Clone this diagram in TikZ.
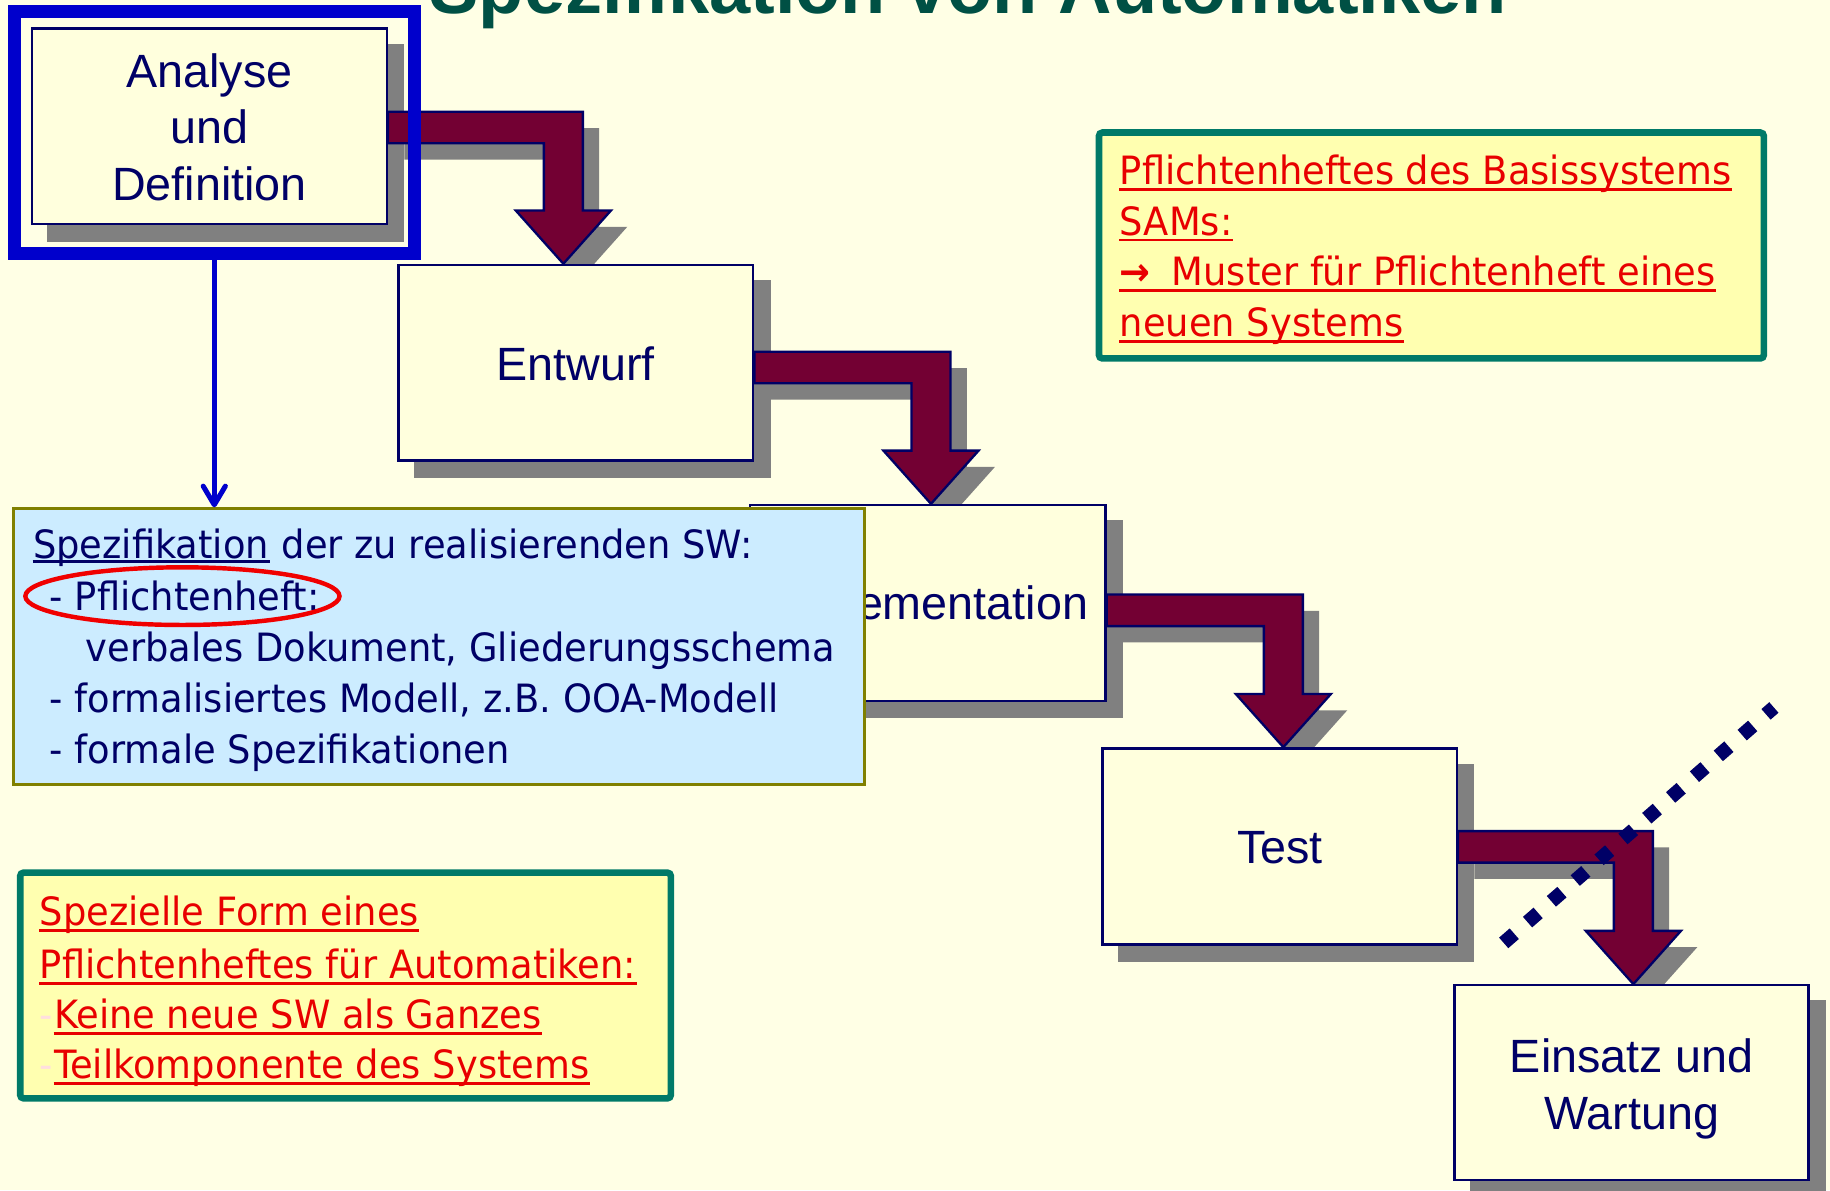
\documentclass[tikz,border=0pt]{standalone}
\usepackage{fontspec}
\usetikzlibrary{calc,fit,arrows.meta}

\newfontfamily\arialf{Liberation Sans}
\newfontfamily\tahf[FakeStretch=0.945]{DejaVu Sans}

\definecolor{bgc}{RGB}{255,255,229}
\definecolor{boxfill}{RGB}{255,255,221}
\definecolor{navyc}{RGB}{0,0,102}
\definecolor{shadowc}{RGB}{128,128,128}
\definecolor{arrowc}{RGB}{115,0,51}
\definecolor{framec}{RGB}{0,0,204}
\definecolor{specfill}{RGB}{204,236,255}
\definecolor{specborder}{RGB}{128,128,0}
\definecolor{notegreen}{RGB}{0,122,104}
\definecolor{notefill}{RGB}{255,255,176}
\definecolor{notered}{RGB}{232,0,0}
\definecolor{palered}{RGB}{255,222,222}
\definecolor{markred}{RGB}{240,0,0}
\definecolor{titlec}{RGB}{0,80,68}

\pgfdeclarelayer{backdrop}
\pgfdeclarelayer{shadows}
\pgfsetlayers{backdrop,shadows,main}

% bent block arrow: #1 = start of the bar (centre), #2 = tip
\newcommand{\bentpath}[2]{([yshift=6.75pt]#1) -| ($(#2)+(16.7,-45.6)$)
  -- ++(24.05,0) -- (#2) -- ++(-40.75,-45.6) -- ++(24.05,0)
  |- ($(#1)+(0,13.5)$) -- cycle}
\newcommand{\ulnote}[1]{\draw[noteul] ([yshift=-2.1pt]#1.base west) -- ([yshift=-2.1pt]#1.base east);}

\begin{document}
\begin{tikzpicture}[x=0.5pt,y=-0.5pt,
  stagebox/.style={draw=navyc, line width=1pt, fill=boxfill, inner sep=0pt},
  stagelabel/.style={font={\arialf\fontsize{20}{24}\selectfont}, text=navyc, anchor=base, inner sep=0pt},
  titletext/.style={font={\arialf\bfseries\fontsize{31.7}{36}\selectfont}, text=titlec, anchor=base west, inner sep=0pt},
  blockarrow/.style={fill=arrowc, draw=navyc, line width=1pt, line join=miter},
  dropshadow/.style={fill=shadowc, transform canvas={shift={(7pt,-7pt)}}},
  spectext/.style={font={\tahf\fontsize{16.7}{20}\selectfont}, text=navyc, anchor=base west, inner sep=0pt},
  notetext/.style={font={\tahf\fontsize{16.7}{20}\selectfont}, text=notered, anchor=base west, inner sep=0pt},
  noteul/.style={draw=notered, line width=1.2pt},
  notebox/.style={draw=notegreen, line width=2.85pt, fill=notefill, rounded corners=1.5pt, inner sep=0pt},
  bluearrow/.style={draw=framec, line width=2.15pt, line cap=round,
    -{Straight Barb[length=8pt, width=9.5pt, line cap=round, line join=round]}},
  cutline/.style={draw=navyc, line width=6pt, dash pattern=on 6pt off 7.55pt}
]
\useasboundingbox (0,0) rectangle (1568,1020);
\begin{pgfonlayer}{backdrop}
  \fill[bgc] (0,0) rectangle (1568,1020);
\end{pgfonlayer}

% heading
\node[titletext] (title) at (367.7,12) {Spezifikation von Automatiken};

% phases of the waterfall
\node[stagebox, fit={(27.5,24.3) (331.4,192)}] (ana) {};
\node[stagebox, fit={(341.4,227) (645.4,394.7)}] (ent) {};
\node[stagebox, fit={(642.5,432.7) (947.3,600.4)}] (imp) {};
\node[stagebox, fit={(944.7,641.2) (1248.3,809.2)}] (tst) {};
\node[stagebox, fit={(1246.2,844.2) (1549.6,1011.1)}] (ein) {};

\node[stagelabel] (ana-l1) at (179.5,74.8) {Analyse};
\node[stagelabel] (ana-l2) at (179.5,122.8) {und};
\node[stagelabel] (ana-l3) at (179.5,172.2) {Definition};
\node[stagelabel] (ent-l) at (493.4,326.4) {Entwurf};
\node[stagelabel] (imp-l) at (795.5,531.2) {Implementation};
\node[stagelabel] (tst-l) at (1096.7,739.7) {Test};
\node[stagelabel] (ein-l1) at (1398.2,919.1) {Einsatz und};
\node[stagelabel] (ein-l2) at (1398.2,967.6) {Wartung};

% ends of the block arrows
\coordinate (s1) at ([yshift=-0.55pt]ana.east);
\coordinate (t1) at ([xshift=-5.35pt]ent.north);
\coordinate (s2) at ([yshift=-2pt]ent.east);
\coordinate (t2) at ([xshift=1.4pt]imp.north);
\coordinate (s3) at ([yshift=-3.2pt]imp.east);
\coordinate (t3) at ([xshift=1.55pt]tst.north);
\coordinate (s4) at ([yshift=-0.2pt]tst.east);
\coordinate (t4) at ([xshift=0.8pt]ein.north);

% drop shadows
\begin{pgfonlayer}{shadows}
  \foreach \b in {ana,ent,imp,tst,ein}
    \fill[dropshadow] (\b.north west) rectangle (\b.south east);
  \fill[dropshadow] \bentpath{s1}{t1};
  \fill[dropshadow] \bentpath{s2}{t2};
  \fill[dropshadow] \bentpath{s3}{t3};
  \fill[dropshadow] \bentpath{s4}{t4};
\end{pgfonlayer}

% block arrows between the phases
\draw[blockarrow] \bentpath{s1}{t1};
\draw[blockarrow] \bentpath{s2}{t2};
\draw[blockarrow] \bentpath{s3}{t3};
\draw[blockarrow] \bentpath{s4}{t4};

% highlight of the first phase
\node[draw=framec, line width=5.75pt, inner sep=0pt, fit={(12.25,10.05) (354.95,217.05)}] (frame) {};

% specification box
\node[draw=specborder, line width=1.3pt, fill=specfill, inner sep=0pt, fit={(11.9,436) (740.7,672.2)}] (spec) {};
\draw[bluearrow] (frame.south) -- (frame.south |- spec.north);

\node[spectext] (spec-1a) at (27.9,478.4) {Spezifikation};
\node[spectext] (spec-1b) at (spec-1a.base east) {\ der zu realisierenden SW:};
\node[spectext] (spec-2) at (42.3,522.7) {- Pflichtenheft:};
\node[spectext] (spec-3) at (73.1,567) {verbales Dokument, Gliederungsschema};
\node[spectext] (spec-4) at (42.3,610.6) {- formalisiertes Modell, z.B. OOA-Modell};
\node[spectext] (spec-5) at (42.3,654.6) {- formale Spezifikationen};
\draw[navyc, line width=1pt] ([yshift=-1.4pt]spec-1a.base west) -- ([yshift=-1.4pt]spec-1a.base east);
\draw[markred, line width=1.9pt] (156.3,510.8) ellipse [x radius=67.3pt, y radius=12.35pt];

% note: base system
\node[notebox, fit={(941.6,113.6) (1511.3,307.1)}] (note1) {};
\node[notetext] (note1-1) at (959.1,158.5) {Pflichtenheftes des Basissystems};
\node[notetext] (note1-2) at (959.1,201.4) {SAMs:};
\node[notetext] (note1-3) at (959.1,245) {{\bfseries →}\hspace{4pt} Muster für Pflichtenheft eines\ };
\node[notetext] (note1-4) at (959.1,288.5) {neuen Systems};
\ulnote{note1-1}\ulnote{note1-2}\ulnote{note1-3}\ulnote{note1-4}

% note: special form
\node[notebox, fit={(17.3,747.7) (574.8,941.1)}] (note2) {};
\node[notetext] (note2-1) at (33.7,793.4) {Spezielle Form eines\ };
\node[notetext] (note2-2) at (33.7,838.3) {Pflichtenheftes für Automatiken:};
\node[notetext, text=palered] (note2-3d) at (33.7,881.1) {-};
\node[notetext] (note2-3) at (note2-3d.base east) {Keine neue SW als Ganzes};
\node[notetext, text=palered] (note2-4d) at (33.7,923.9) {-};
\node[notetext] (note2-4) at (note2-4d.base east) {Teilkomponente des Systems};
\ulnote{note2-1}\ulnote{note2-2}\ulnote{note2-3}\ulnote{note2-4}

% dotted cut line
\coordinate (cut-a) at (1288.4,807.9);
\coordinate (cut-b) at (1519.9,606.2);
\draw[cutline] (cut-a) -- (cut-b);
\end{tikzpicture}
\end{document}
